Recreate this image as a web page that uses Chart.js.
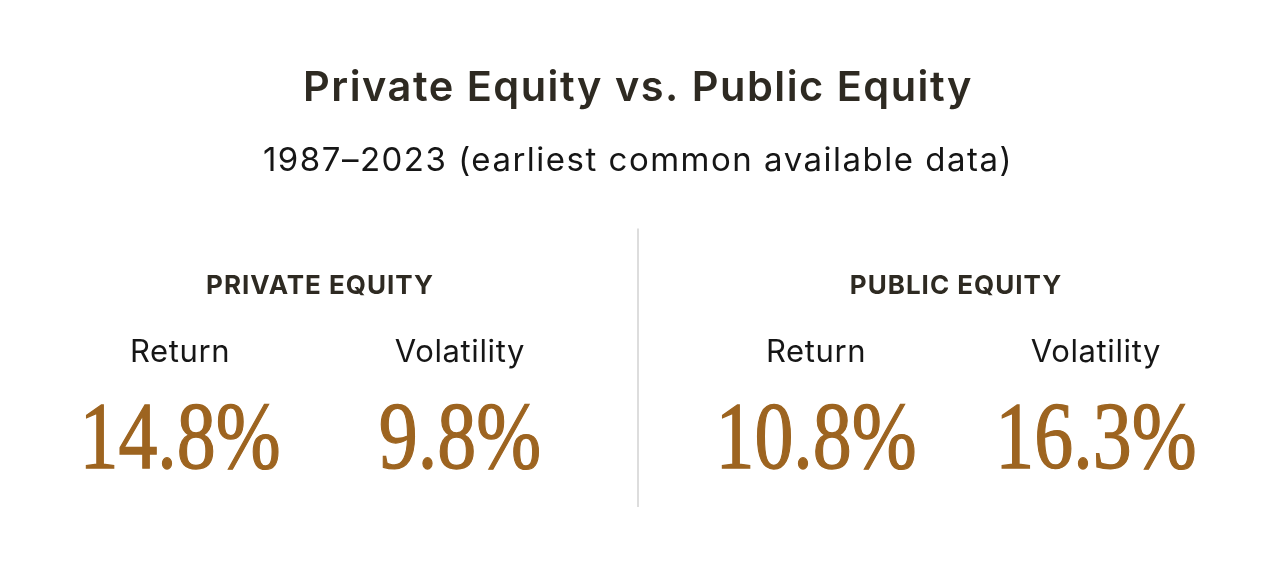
<!DOCTYPE html>
<html>
<head>
<meta charset="utf-8">
<script src="https://cdn.jsdelivr.net/npm/chart.js@4"></script>
<style>
  html, body { margin: 0; padding: 0; background: #ffffff; }
  #wrap { width: 1274px; height: 568px; position: relative; }
</style>
</head>
<body>
<div id="wrap"><canvas id="equityChart"></canvas></div>
<script>
// Dados do quadro
const grupos = ['PRIVATE EQUITY', 'PUBLIC EQUITY'];
const metricas = ['Return', 'Volatility'];
const retorno = [14.8, 10.8];       // % ao ano
const volatilidade = [9.8, 16.3];   // %

const corTitulo = '#2e2a22';
const corTexto = '#161616';
const corValor = '#9d6420';

// Espaçamento de letras para o título e subtítulo (fonte mais larga no original)
const espacamentoPlugin = {
    id: 'espacamento',
    beforeDraw(chart) {
        chart.ctx.letterSpacing = '1.5px';
    }
};

// Plugin que escreve cabeçalhos, rótulos e valores nas posições das barras
const textosPlugin = {
    id: 'textos',
    afterDatasetsDraw(chart) {
        const ctx = chart.ctx;
        const area = chart.chartArea;
        const x = chart.scales.x;

        ctx.save();
        ctx.textAlign = 'center';
        ctx.textBaseline = 'alphabetic';

        // Cabeçalhos dos grupos
        ctx.fillStyle = corTitulo;
        ctx.font = '700 26px Inter';
        ctx.letterSpacing = '1px';
        grupos.forEach((g, j) => {
            ctx.fillText(g, x.getPixelForValue(j), area.top + 66);
        });

        chart.data.datasets.forEach((ds, i) => {
            const meta = chart.getDatasetMeta(i);
            meta.data.forEach((bar, j) => {
                // Rótulo da métrica
                ctx.fillStyle = corTexto;
                ctx.font = '400 31px Inter';
                ctx.letterSpacing = '0.6px';
                ctx.fillText(ds.label, bar.x, area.top + 134);

                // Valor
                ctx.save();
                ctx.letterSpacing = '0px';
                ctx.translate(bar.x, area.top + 240);
                ctx.scale(0.82, 1);
                ctx.fillStyle = corValor;
                ctx.strokeStyle = corValor;
                ctx.lineWidth = 1.3;
                ctx.font = '400 95px "Liberation Serif"';
                const txt = ds.data[j].toFixed(1) + '%';
                ctx.fillText(txt, 0, 0);
                ctx.strokeText(txt, 0, 0);
                ctx.restore();
            });
        });
        ctx.restore();
    }
};

const ctx = document.getElementById('equityChart').getContext('2d');
const equityChart = new Chart(ctx, {
    type: 'bar',
    data: {
        labels: grupos,
        datasets: [
            { label: metricas[0], data: retorno, backgroundColor: 'rgba(0,0,0,0)' },
            { label: metricas[1], data: volatilidade, backgroundColor: 'rgba(0,0,0,0)' }
        ]
    },
    options: {
        responsive: true,
        maintainAspectRatio: false,
        animation: false,
        events: [],
        categoryPercentage: 0.88,
        barPercentage: 0.9,
        layout: { padding: { top: 0, bottom: 61, left: 2, right: 0 } },
        plugins: {
            legend: { display: false },
            tooltip: { enabled: false },
            title: {
                display: true,
                text: 'Private Equity vs. Public Equity',
                color: corTitulo,
                font: { family: 'Inter', size: 41.5, weight: '600', lineHeight: 1.2 },
                padding: { top: 64, bottom: 0 }
            },
            subtitle: {
                display: true,
                text: '1987–2023 (earliest common available data)',
                color: corTexto,
                font: { family: 'Inter', size: 33, weight: '400', lineHeight: 1.2 },
                padding: { top: 27, bottom: 48 }
            }
        },
        scales: {
            x: {
                display: true,
                ticks: { display: false },
                border: { display: false },
                grid: {
                    drawTicks: false,
                    tickLength: 0,
                    lineWidth: 2,
                    color: (c) => c.index === 1 ? '#dddddd' : 'rgba(0,0,0,0)'
                }
            },
            y: { display: false, min: 0, max: 20 }
        }
    },
    plugins: [espacamentoPlugin, textosPlugin]
});
</script>
</body>
</html>
